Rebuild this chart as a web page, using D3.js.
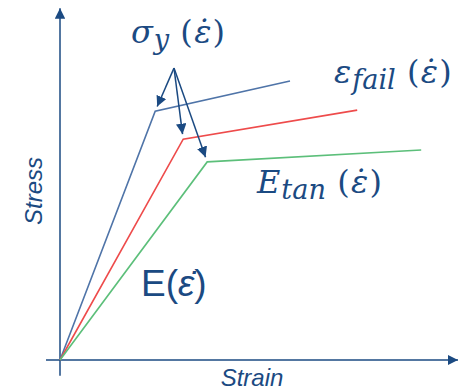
<!DOCTYPE html>
<html>
<head>
<meta charset="utf-8">
<script src="https://cdn.jsdelivr.net/npm/d3@7"></script>
<style>
  body { margin: 0; background: #fff; }
</style>
</head>
<body>
<script>
// chart size
var w = 458, h = 391;

// data (strain, stress) in arbitrary units
var curveNames = ["high", "mid", "low"];
var curveColors = ["#4f74a8", "#ee4b4b", "#5cbf7a"];
var strainPts = [
    [0, 23.8, 57.5],
    [0, 30.8, 74.3],
    [0, 36.8, 90.3]
];
var stressPts = [
    [0, 71.1, 79.7],
    [0, 63.1, 71.4],
    [0, 56.6, 60.0]
];

// where the yield label arrows start
var yieldLabelPt = [28.5, 83.4];

var textColor = "#1b4a82";

var x = d3.scaleLinear().domain([0, 100]).range([60, 460]);
var y = d3.scaleLinear().domain([0, 100]).range([360, 10]);

var svg = d3.select("body")
    .append("svg")
    .attr("width", w)
    .attr("height", h);

var defs = svg.append("defs");
defs.append("marker")
    .attr("id", "axisHead")
    .attr("viewBox", "0 0 10 10")
    .attr("refX", 10)
    .attr("refY", 5)
    .attr("markerWidth", 7)
    .attr("markerHeight", 7)
    .attr("markerUnits", "strokeWidth")
    .attr("orient", "auto")
    .append("path")
    .attr("d", "M0,0 L10,5 L0,10 Z")
    .attr("fill", textColor);

defs.append("marker")
    .attr("id", "pointer")
    .attr("viewBox", "0 0 10 10")
    .attr("refX", 10)
    .attr("refY", 5)
    .attr("markerWidth", 7)
    .attr("markerHeight", 7)
    .attr("markerUnits", "strokeWidth")
    .attr("orient", "auto")
    .append("path")
    .attr("d", "M0,0 L10,5 L0,10 Z")
    .attr("fill", textColor);

// axes
svg.append("line")
    .attr("x1", x(0)).attr("y1", y(-4.5))
    .attr("x2", x(0)).attr("y2", y(100.5))
    .attr("stroke", textColor)
    .attr("stroke-width", 1.5)
    .attr("marker-end", "url(#axisHead)");

svg.append("line")
    .attr("x1", x(-3.5)).attr("y1", y(0))
    .attr("x2", x(99.5)).attr("y2", y(0))
    .attr("stroke", textColor)
    .attr("stroke-width", 1.5)
    .attr("marker-end", "url(#axisHead)");

// curves
var line = d3.line()
    .x(function(d){ return x(d[0]); })
    .y(function(d){ return y(d[1]); });

var curves = curveNames.map(function(name, i){
    return strainPts[i].map(function(s, j){ return [s, stressPts[i][j]]; });
});

svg.selectAll(".curve")
    .data(curves)
    .enter()
    .append("path")
    .attr("class", "curve")
    .attr("d", line)
    .attr("fill", "none")
    .attr("stroke", function(d, i){ return curveColors[i]; })
    .attr("stroke-width", 1.6);

// arrows from the yield label to each knee
function tip(d, k){
    var x0 = x(yieldLabelPt[0]), x1 = x(d[1][0]);
    var y0 = y(yieldLabelPt[1]), y1 = y(d[1][1]);
    var len = Math.hypot(x1 - x0, y1 - y0);
    return k == "x" ? x1 - (x1 - x0) / len * 5 : y1 - (y1 - y0) / len * 5;
}

svg.selectAll(".pointer")
    .data(curves)
    .enter()
    .append("line")
    .attr("class", "pointer")
    .attr("x1", x(yieldLabelPt[0]))
    .attr("y1", y(yieldLabelPt[1]))
    .attr("x2", function(d){ return tip(d, "x"); })
    .attr("y2", function(d){ return tip(d, "y"); })
    .attr("stroke", textColor)
    .attr("stroke-width", 1.5)
    .attr("marker-end", "url(#pointer)");

// math labels
var mathFont = "'DejaVu Serif', 'Liberation Serif', serif";

function mathLabel(px, py, main, sub, size){
    var t = svg.append("text")
        .attr("x", px)
        .attr("y", py)
        .attr("fill", textColor)
        .attr("font-family", mathFont)
        .attr("font-style", "italic")
        .attr("font-size", size);
    t.append("tspan").text(main);
    t.append("tspan")
        .attr("font-size", size * 0.85)
        .attr("dy", size * 0.2)
        .attr("dx", size * 0.03)
        .text(sub);
    t.append("tspan")
        .attr("dy", -size * 0.2)
        .attr("dx", size * 0.35)
        .attr("font-style", "normal")
        .text("(");
    t.append("tspan").attr("dx", size * 0.04).text("\u03B5\u0307");
    t.append("tspan")
        .attr("dx", size * 0.04)
        .attr("font-style", "normal")
        .text(")");
    return t;
}

mathLabel(131, 43, "\u03C3", "y", 32);
mathLabel(334, 83, "\u03B5", "fail", 32);
mathLabel(257, 193, "E", "tan", 32);

// E(eps dot) in sans
var eLabel = svg.append("text")
    .attr("x", 141)
    .attr("y", 296)
    .attr("fill", textColor)
    .attr("font-family", "'Liberation Sans', Arial, sans-serif")
    .attr("font-size", 37);
eLabel.append("tspan").text("E(");
eLabel.append("tspan").attr("font-style", "italic").text("\u03B5\u0307");
eLabel.append("tspan").text(")");

// axis titles
svg.append("text")
    .attr("transform", "translate(42,191) rotate(-90)")
    .attr("text-anchor", "middle")
    .attr("fill", textColor)
    .attr("font-family", "'Liberation Sans', Arial, sans-serif")
    .attr("font-style", "italic")
    .attr("font-size", 24)
    .text("Stress");

svg.append("text")
    .attr("x", 252)
    .attr("y", 386)
    .attr("text-anchor", "middle")
    .attr("fill", textColor)
    .attr("font-family", "'Liberation Sans', Arial, sans-serif")
    .attr("font-style", "italic")
    .attr("font-size", 24)
    .text("Strain");
</script>
</body>
</html>
